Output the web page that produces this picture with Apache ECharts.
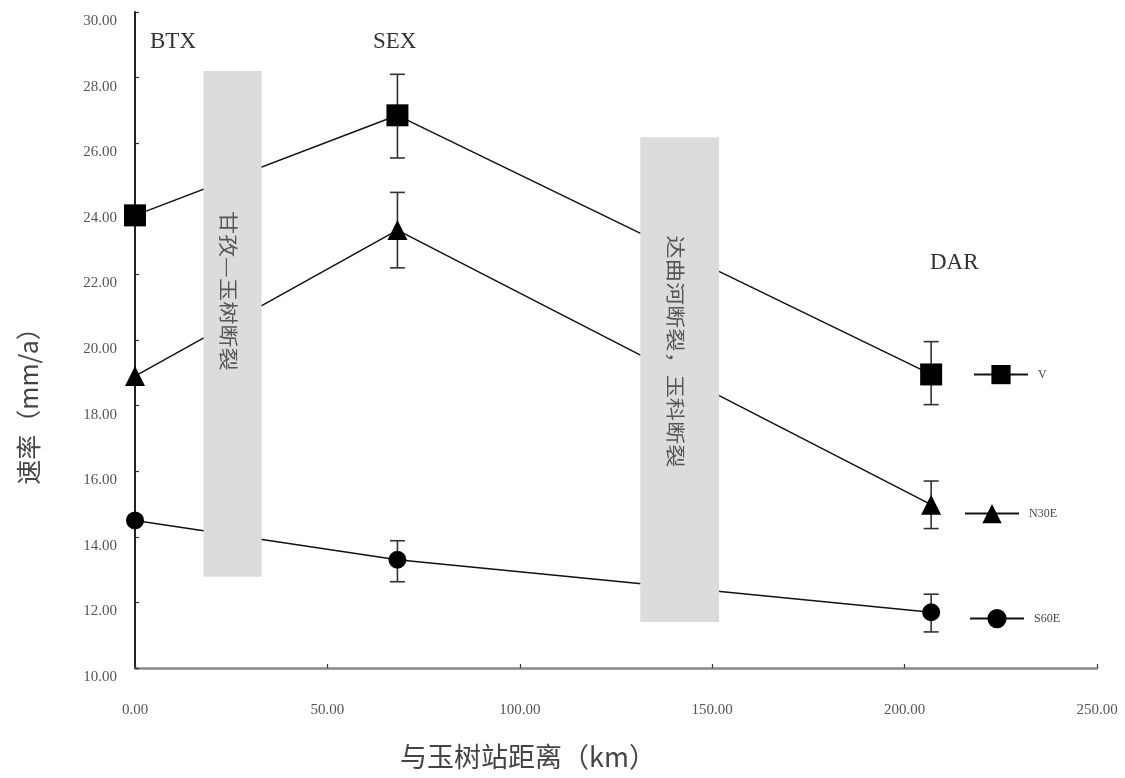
<!DOCTYPE html>
<html>
<head>
<meta charset="utf-8">
<script src="https://cdn.jsdelivr.net/npm/echarts@6/dist/echarts.min.js"></script>
<style>html,body{margin:0;padding:0;background:#fff}#c{width:1125px;height:778px}</style>
</head>
<body>
<div id="c"></div>
<script>
// ---- data ----
const stations = ['BTX', 'SEX', 'DAR'];
const distances = [0, 68.2, 206.9];
const seriesNames = ['V', 'N30E', 'S60E'];
const vRate = [23.8, 26.85, 18.95];
const n30eRate = [18.9, 23.35, 14.98];
const s60eRate = [14.5, 13.3, 11.7];
// error bar [low, high] per station (null = none)
const vErr = [null, [25.55, 28.1], [18.03, 19.95]];
const n30eErr = [null, [22.2, 24.5], [14.25, 15.7]];
const s60eErr = [null, [12.63, 13.88], [11.1, 12.25]];
// fault zones: [xStart, xEnd, yTop, yBottom]
const faultNames = ['甘孜—玉树断裂', '达曲河断裂，玉科断裂'];
const faultX0 = [17.8, 131.3];
const faultX1 = [32.9, 151.8];
const faultYTop = [28.2, 26.18];
const faultYBottom = [12.78, 11.4];
const faultLabelY = [21.5, 19.65];
const yTicks = { min: 10, max: 30, interval: 2 };
const xTicks = { min: 0, max: 250, interval: 50 };

const chart = echarts.init(document.getElementById('c'));
const serifFont = '"Liberation Serif", "DejaVu Serif", serif';
const cjkFont = '"Noto Sans CJK SC", sans-serif';

function lineData(vals) { return distances.map((d, i) => [d, vals[i]]); }
function errData(errs) {
  const out = [];
  errs.forEach((e, i) => { if (e) out.push([distances[i], e[0], e[1]]); });
  return out;
}
function errSeries(name, errs) {
  return {
    type: 'custom', name: name + '_err', z: 2, silent: true,
    data: errData(errs),
    encode: { x: 0, y: [1, 2] },
    renderItem: function (params, api) {
      const lo = api.coord([api.value(0), api.value(1)]);
      const hi = api.coord([api.value(0), api.value(2)]);
      const cw = 7.5;
      const st = { stroke: '#333', lineWidth: 1.6 };
      return {
        type: 'group', children: [
          { type: 'line', shape: { x1: lo[0], y1: lo[1], x2: hi[0], y2: hi[1] }, style: st },
          { type: 'line', shape: { x1: lo[0] - cw, y1: lo[1], x2: lo[0] + cw, y2: lo[1] }, style: st },
          { type: 'line', shape: { x1: hi[0] - cw, y1: hi[1], x2: hi[0] + cw, y2: hi[1] }, style: st }
        ]
      };
    }
  };
}
const symbols = ['rect', 'triangle', 'circle'];
const symbolSizes = [22, 20, 18];
const rates = [vRate, n30eRate, s60eRate];
const errs = [vErr, n30eErr, s60eErr];

const series = [];
seriesNames.forEach((n, i) => {
  series.push({
    type: 'line', name: n, data: lineData(rates[i]),
    symbol: symbols[i], symbolSize: symbolSizes[i], showSymbol: true,
    lineStyle: { color: '#111', width: 1.5 },
    itemStyle: { color: '#000' },
    z: 3, animation: false
  });
  series.push(errSeries(n, errs[i]));
});
series.push({
  type: 'custom', name: 'faults', z: 5, silent: true,
  data: faultNames.map((nm, i) => [faultX0[i], faultX1[i], faultYTop[i], faultYBottom[i], faultLabelY[i]]),
  encode: { x: [0, 1], y: [2, 3] },
  renderItem: function (params, api) {
    const p0 = api.coord([api.value(0), api.value(2)]);
    const p1 = api.coord([api.value(1), api.value(3)]);
    const t = api.coord([(api.value(0) + api.value(1)) / 2, api.value(4)]);
    return {
      type: 'group', children: [
        { type: 'rect', shape: { x: p0[0], y: p0[1], width: p1[0] - p0[0], height: p1[1] - p0[1] },
          style: { fill: '#dcdcdc' } },
        { type: 'text', x: t[0] - 4, y: t[1], rotation: -Math.PI / 2, scaleX: 1.22,
          style: { text: faultNames[params.dataIndex], fill: '#555', font: '19px ' + cjkFont,
            align: 'center', verticalAlign: 'middle' } }
      ]
    };
  }
});

const legendPos = [
  { left: 973, top: 365 },
  { left: 964, top: 504 },
  { left: 969, top: 609 }
];

chart.setOption({
  animation: false,
  backgroundColor: '#fff',
  grid: { left: 135, right: 28, top: 12, bottom: 110, containLabel: false },
  xAxis: {
    type: 'value', min: xTicks.min, max: xTicks.max, interval: xTicks.interval,
    axisLine: { show: true, lineStyle: { color: '#888', width: 2.5 } },
    axisTick: { show: true, inside: true, length: 4, lineStyle: { color: '#333', width: 1.2 } },
    splitLine: { show: false },
    axisLabel: { margin: 35, color: '#555', fontSize: 15, fontFamily: serifFont,
      formatter: v => v.toFixed(2) }
  },
  yAxis: {
    type: 'value', min: yTicks.min, max: yTicks.max, interval: yTicks.interval,
    axisLine: { show: true, lineStyle: { color: '#222', width: 2 } },
    axisTick: { show: true, inside: true, length: 4, lineStyle: { color: '#333', width: 1.2 } },
    splitLine: { show: false },
    axisLabel: { margin: 18, color: '#555', fontSize: 15, fontFamily: serifFont,
      verticalAlign: 'top', lineHeight: 18, formatter: v => v.toFixed(2) }
  },
  legend: seriesNames.map((n, i) => ({
    data: [n], left: legendPos[i].left, top: legendPos[i].top,
    itemWidth: 54, itemHeight: 24, padding: 0,
    textStyle: { color: '#444', fontSize: 12, fontFamily: serifFont, padding: [0, 0, 0, 5] }
  })),
  graphic: [
    { type: 'text', left: 150, top: 30, style: { text: stations[0], font: '23px ' + serifFont, fill: '#333' } },
    { type: 'text', left: 373, top: 30, style: { text: stations[1], font: '23px ' + serifFont, fill: '#333' } },
    { type: 'text', left: 930, top: 251, style: { text: stations[2], font: '23px ' + serifFont, fill: '#333' } },
    { type: 'text', x: 28, y: 400, rotation: Math.PI / 2,
      style: { text: '速率（mm/a）', font: '25px ' + cjkFont, fill: '#444', align: 'center', verticalAlign: 'middle' } },
    { type: 'text', x: 528, y: 757,
      style: { text: '与玉树站距离（km）', font: '27px ' + cjkFont, fill: '#444', align: 'center', verticalAlign: 'middle' } }
  ],
  series: series
});
</script>
</body>
</html>
